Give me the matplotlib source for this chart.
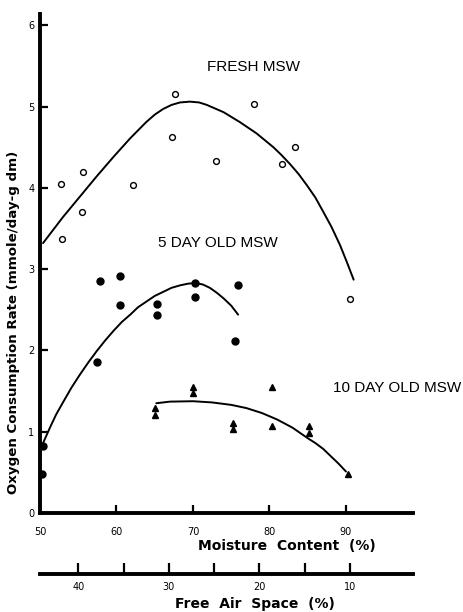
import matplotlib
matplotlib.use("Agg")
import matplotlib.pyplot as plt
import numpy as np

# Fresh MSW: measured points and fitted trend
fresh_x = [52.7, 52.9, 55.6, 55.5, 62.2, 67.6, 67.3, 73.0, 78.0, 83.3, 81.6, 90.5]
fresh_y = [4.05, 3.37, 4.19, 3.70, 4.03, 5.15, 4.62, 4.33, 5.03, 4.50, 4.29, 2.63]
fresh_curve_x = [50.4, 53.0, 55.2, 57.4, 59.6, 61.8, 63.9, 65.0, 66.1, 67.2, 68.3,
                 69.6, 70.8, 71.8, 74.0, 76.1, 78.3, 80.5, 81.6, 82.7, 83.8, 84.9,
                 86.0, 87.0, 88.1, 89.2, 90.1, 91.0]
fresh_curve_y = [3.32, 3.64, 3.89, 4.14, 4.38, 4.61, 4.81, 4.90, 4.97, 5.02, 5.05,
                 5.06, 5.05, 5.02, 4.93, 4.81, 4.67, 4.50, 4.40, 4.29, 4.17, 4.03,
                 3.88, 3.71, 3.52, 3.30, 3.09, 2.87]

# 5 day old MSW
day5_x = [57.9, 60.5, 60.4, 65.3, 65.3, 57.5, 50.4, 50.2, 70.3, 70.2, 75.9, 75.5]
day5_y = [2.85, 2.92, 2.56, 2.57, 2.44, 1.86, 0.82, 0.48, 2.83, 2.66, 2.81, 2.12]
day5_curve_x = [50.4, 51.3, 52.1, 53.0, 54.1, 55.2, 56.3, 57.4, 58.5, 59.6, 60.7,
                61.8, 62.8, 63.9, 65.0, 66.1, 67.2, 68.3, 69.3, 70.3, 71.3, 72.2,
                73.1, 74.0, 75.0, 75.9]
day5_curve_y = [0.86, 1.05, 1.21, 1.36, 1.54, 1.70, 1.85, 1.99, 2.12, 2.24, 2.35,
                2.44, 2.53, 2.60, 2.67, 2.72, 2.77, 2.80, 2.82, 2.83, 2.81, 2.77,
                2.71, 2.64, 2.55, 2.44]

# 10 day old MSW
day10_x = [65.0, 65.0, 70.0, 70.0, 75.2, 75.2, 80.3, 80.3, 85.2, 85.2, 90.2]
day10_y = [1.29, 1.20, 1.55, 1.48, 1.11, 1.03, 1.55, 1.07, 1.07, 0.99, 0.48]
day10_curve_x = [65.2, 67.0, 70.0, 72.5, 75.0, 77.0, 79.0, 81.0, 83.0, 85.0, 86.0,
                 87.0, 88.0, 89.0, 90.0]
day10_curve_y = [1.35, 1.37, 1.375, 1.36, 1.33, 1.29, 1.23, 1.15, 1.05, 0.92, 0.86,
                 0.79, 0.70, 0.61, 0.51]

moisture_ticks = [50, 60, 70, 80, 90]
rate_ticks = [0, 1, 2, 3, 4, 5, 6]
fas_ticks = [40, 35, 30, 25, 20, 15, 10]
fas_labels = ["40", "", "30", "", "20", "", "10"]

W, H = 463, 612
fig = plt.figure(figsize=(W / 100, H / 100), dpi=100)
ax = fig.add_axes([40 / W, 1 - 513 / H, 373 / W, 499 / H])
ax.set_xlim(50, 98.76)
ax.set_ylim(0, 6.138)

for s in ("top", "right"):
    ax.spines[s].set_visible(False)
for s in ("left", "bottom"):
    ax.spines[s].set_linewidth(2.8)

ax.set_xticks(moisture_ticks)
ax.set_yticks(rate_ticks)
ax.tick_params(direction="in", length=6, width=1.6, labelsize=7)
ax.tick_params(axis="x", pad=10)
ax.tick_params(axis="y", pad=4)

line_kw = dict(color="black", lw=1.4, clip_on=False,
               solid_joinstyle="round", solid_capstyle="round")
ax.plot(fresh_curve_x, fresh_curve_y, **line_kw)
ax.plot(day5_curve_x, day5_curve_y, **line_kw)
ax.plot(day10_curve_x, day10_curve_y, **line_kw)

ax.plot(fresh_x, fresh_y, "o", ms=4.2, mfc="white", mec="black", mew=1.0, clip_on=False)
ax.plot(day5_x, day5_y, "o", ms=5, color="black", clip_on=False)
ax.plot(day10_x, day10_y, "^", ms=4, color="black", clip_on=False)

tfont = dict(family="Liberation Sans", fontsize=11, ha="left", va="center")
ax.text(71.8, 5.49, "FRESH MSW", **tfont)
ax.text(65.4, 3.32, "5 DAY OLD MSW", **tfont)
ax.text(88.3, 1.54, "10 DAY OLD MSW", **tfont)

# Free air space scale below the moisture axis
def to_fas(m):
    return 40 - (np.asarray(m) - 55) / 1.1833

def to_moist(f):
    return 55 + (40 - np.asarray(f)) * 1.1833

sec = ax.secondary_xaxis(-0.1222, functions=(to_fas, to_moist))
sec.spines["bottom"].set_linewidth(2.8)
sec.set_xticks(fas_ticks)
sec.set_xticklabels(fas_labels)
sec.tick_params(direction="in", length=8, width=1.6, labelsize=7, pad=6)

lfont = dict(family="DejaVu Sans", fontweight="bold")
fig.text(287 / W, 1 - 546 / H, "Moisture  Content  (%)", ha="center", va="center",
         fontsize=10, **lfont)
fig.text(255 / W, 1 - 604 / H, "Free  Air  Space  (%)", ha="center", va="center",
         fontsize=10, **lfont)
fig.text(14 / W, 1 - 322 / H, "Oxygen Consumption Rate (mmole/day-g dm)",
         rotation=90, ha="center", va="center", fontsize=9.6, **lfont)

fig.savefig("out.png", dpi=100)
